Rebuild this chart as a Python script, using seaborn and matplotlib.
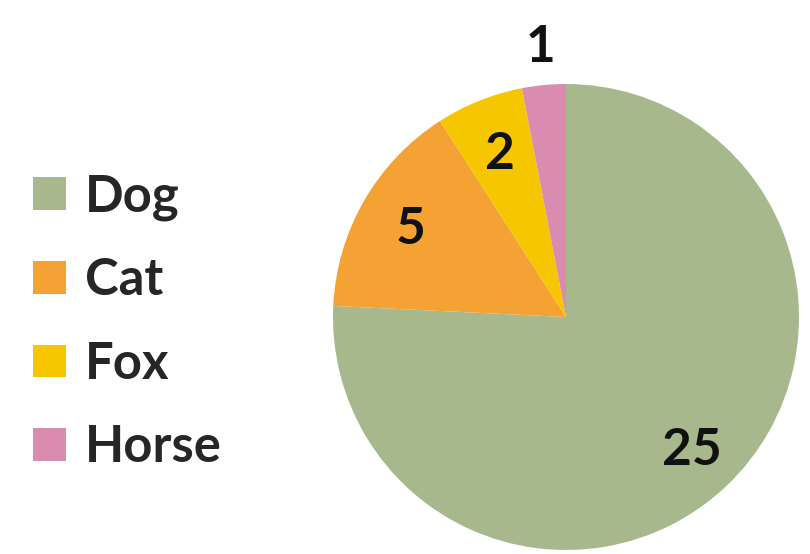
import matplotlib
matplotlib.use("Agg")
import matplotlib.pyplot as plt
import seaborn as sns
import numpy as np

categories = ["Dog", "Cat", "Fox", "Horse"]
values = [25, 5, 2, 1]
colors = ["#A7B98C", "#F3A233", "#F6C700", "#D98BB0"]
label_dist = [0.78, 0.77, 0.76, 1.17]

sns.set_theme(style="white")
plt.rcParams["font.family"] = ["Lato", "DejaVu Sans"]

W, H = 810, 554
fig = plt.figure(figsize=(W / 100, H / 100), dpi=100)
cx, cy, R = 566, 317, 233
ax = fig.add_axes([(cx - R) / W, (H - cy - R) / H, 2 * R / W, 2 * R / H])

wedges, _ = ax.pie(values, colors=colors, startangle=90, counterclock=False,
                   radius=1, wedgeprops=dict(linewidth=0))
ax.set_xlim(-1, 1)
ax.set_ylim(-1, 1)
ax.set_aspect("equal")
ax.axis("off")

for w, v, d in zip(wedges, values, label_dist):
    ang = np.deg2rad((w.theta1 + w.theta2) / 2)
    ax.text(d * np.cos(ang), d * np.sin(ang) - 0.01, str(v), ha="center", va="center",
            fontsize=37, fontweight="bold", color="#111111", clip_on=False)

leg = fig.legend(wedges, categories, loc="upper left",
                 bbox_to_anchor=(8 / W, 1 - 148 / H), frameon=False,
                 prop=dict(family=["Lato", "DejaVu Sans"], weight="bold", size=36.5),
                 handlelength=0.65, handleheight=0.6, handletextpad=0.37,
                 labelspacing=0.72, borderpad=0)

fig.savefig("out.png", dpi=100)
